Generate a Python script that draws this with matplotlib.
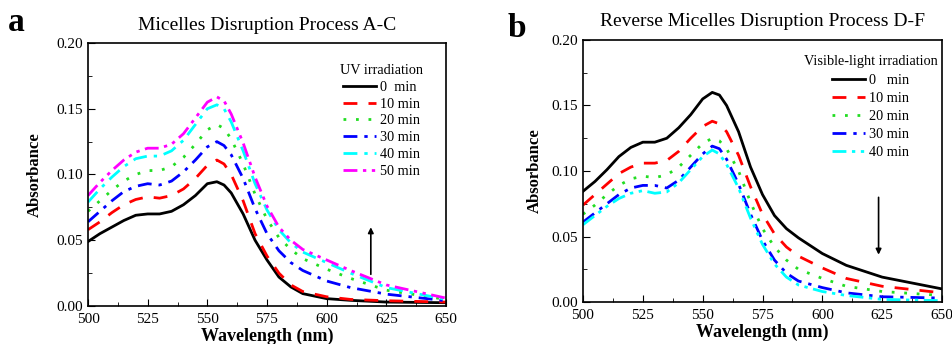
import matplotlib
matplotlib.use("Agg")
import matplotlib.pyplot as plt
from matplotlib.ticker import MultipleLocator

plt.rcParams['font.family'] = ['Liberation Serif', 'DejaVu Serif']

wl = [500, 505, 510, 515, 520, 525, 530, 535, 540, 545, 550, 554, 557, 560,
      565, 570, 575, 580, 585, 590, 600, 610, 625, 650]

# Panel a: UV irradiation
a_labels = ["0  min", "10 min", "20 min", "30 min", "40 min", "50 min"]
a_0 = [0.049, 0.055, 0.060, 0.065, 0.069, 0.070, 0.070, 0.072, 0.077, 0.084, 0.093, 0.0945, 0.092, 0.086,
       0.070, 0.050, 0.035, 0.022, 0.0145, 0.0094, 0.0056, 0.0043, 0.003, 0.0025]
a_10 = [0.058, 0.064, 0.071, 0.077, 0.081, 0.083, 0.082, 0.084, 0.089, 0.097, 0.107, 0.111, 0.108, 0.100,
        0.080, 0.055, 0.038, 0.025, 0.016, 0.011, 0.007, 0.005, 0.004, 0.003]
a_20 = [0.072, 0.080, 0.088, 0.095, 0.100, 0.103, 0.103, 0.106, 0.113, 0.123, 0.134, 0.138, 0.135, 0.127,
        0.108, 0.085, 0.066, 0.052, 0.043, 0.036, 0.028, 0.021, 0.012, 0.005]
a_30 = [0.064, 0.072, 0.080, 0.087, 0.091, 0.093, 0.092, 0.095, 0.102, 0.111, 0.121, 0.125, 0.122, 0.115,
        0.097, 0.074, 0.055, 0.042, 0.033, 0.027, 0.019, 0.014, 0.009, 0.004]
a_40 = [0.079, 0.089, 0.098, 0.106, 0.112, 0.114, 0.114, 0.118, 0.126, 0.138, 0.150, 0.153, 0.150, 0.140,
        0.118, 0.093, 0.073, 0.058, 0.048, 0.041, 0.033, 0.025, 0.014, 0.005]
a_50 = [0.084, 0.094, 0.103, 0.111, 0.117, 0.120, 0.120, 0.123, 0.131, 0.143, 0.155, 0.159, 0.156, 0.146,
        0.124, 0.098, 0.076, 0.060, 0.050, 0.043, 0.035, 0.027, 0.016, 0.006]

# Panel b: visible-light irradiation
b_labels = ["0   min", "10 min", "20 min", "30 min", "40 min"]
b_0 = [0.0845, 0.092, 0.101, 0.111, 0.118, 0.122, 0.122, 0.125, 0.133, 0.143, 0.155, 0.160, 0.158, 0.150,
       0.130, 0.103, 0.082, 0.066, 0.056, 0.049, 0.037, 0.028, 0.019, 0.010]
b_10 = [0.074, 0.082, 0.090, 0.098, 0.103, 0.106, 0.106, 0.108, 0.115, 0.125, 0.134, 0.138, 0.136, 0.130,
        0.112, 0.088, 0.067, 0.052, 0.042, 0.035, 0.026, 0.018, 0.012, 0.007]
b_20 = [0.067, 0.074, 0.082, 0.089, 0.094, 0.096, 0.095, 0.097, 0.103, 0.112, 0.121, 0.125, 0.123, 0.117,
        0.100, 0.076, 0.056, 0.042, 0.032, 0.025, 0.018, 0.012, 0.008, 0.005]
b_30 = [0.061, 0.068, 0.075, 0.082, 0.087, 0.089, 0.089, 0.087, 0.093, 0.103, 0.113, 0.119, 0.117, 0.109,
        0.090, 0.067, 0.047, 0.032, 0.022, 0.016, 0.011, 0.007, 0.004, 0.003]
b_40 = [0.059, 0.066, 0.073, 0.079, 0.083, 0.085, 0.083, 0.084, 0.091, 0.101, 0.111, 0.116, 0.113, 0.105,
        0.087, 0.064, 0.044, 0.029, 0.019, 0.013, 0.008, 0.005, 0.002, 0.001]

colors = ["black", "red", "#22dd22", "blue", "cyan", "magenta"]
styles = ["-", (0, (5, 4)), (0, (1, 3.5)), (0, (5, 2.5, 1.2, 2.5)),
          (0, (5, 2.5, 1.2, 2.5)), (0, (5, 2, 1.2, 2, 1.2, 2))]
b_styles = ["-", (0, (5, 4)), (0, (1, 3.5)), (0, (5, 2.5, 1.2, 2.5)),
            (0, (5, 2, 1.2, 2, 1.2, 2))]

fig = plt.figure(figsize=(9.53, 3.44), dpi=100)
ax1 = fig.add_axes([88/953, 1-306/344, 358/953, 263/344])
ax2 = fig.add_axes([583/953, 1-302/344, 359/953, 262/344])


def style_ax(ax, ylabelpad):
    ax.set_xlim(500, 650)
    ax.set_ylim(0, 0.20)
    ax.xaxis.set_major_locator(MultipleLocator(25))
    ax.xaxis.set_minor_locator(MultipleLocator(12.5))
    ax.yaxis.set_major_locator(MultipleLocator(0.05))
    ax.yaxis.set_minor_locator(MultipleLocator(0.025))
    ax.yaxis.set_major_formatter(matplotlib.ticker.FormatStrFormatter('%.2f'))
    ax.tick_params(which='both', direction='in', top=False, right=False, labelsize=11)
    ax.tick_params(axis='x', which='major', pad=5)
    ax.tick_params(which='major', length=5)
    ax.tick_params(which='minor', length=3)
    for s in ax.spines.values():
        s.set_linewidth(1.2)
    ax.set_xlabel("Wavelength (nm)", fontsize=13, fontweight='bold', labelpad=1)
    ax.set_ylabel("Absorbance", fontsize=12, fontweight='bold', labelpad=ylabelpad)


leg_kw = dict(frameon=False, fontsize=10.3, title_fontsize=10.3, loc='upper right',
              handlelength=2.3, handletextpad=0.3)

for ys, lab, c, ls in zip([a_0, a_10, a_20, a_30, a_40, a_50], a_labels, colors, styles):
    ax1.plot(wl, ys, color=c, linestyle=ls, lw=2, label=lab)
style_ax(ax1, 10)
ax1.set_title("Micelles Disruption Process A-C", fontsize=14, pad=9)
ax1.legend(title="UV irradiation", bbox_to_anchor=(0.972, 0.97), labelspacing=0.27, **leg_kw)
ax1.annotate("", xy=(618.5, 0.062), xytext=(618.5, 0.022),
             arrowprops=dict(arrowstyle='-|>', color='black', lw=1.2, mutation_scale=8))

for ys, lab, c, ls in zip([b_0, b_10, b_20, b_30, b_40], b_labels, colors[:5], b_styles):
    ax2.plot(wl, ys, color=c, linestyle=ls, lw=2, label=lab)
style_ax(ax2, 6)
ax2.set_title("Reverse Micelles Disruption Process D-F", fontsize=14, pad=10)
ax2.legend(title="Visible-light irradiation", bbox_to_anchor=(1.024, 0.99), labelspacing=0.36, **leg_kw)
ax2.annotate("", xy=(623.5, 0.034), xytext=(623.5, 0.082),
             arrowprops=dict(arrowstyle='-|>', color='black', lw=1.2, mutation_scale=8))

fig.text(8/953, 1-31/344, "a", fontsize=24, fontweight='bold')
fig.text(508/953, 1-37/344, "b", fontsize=24, fontweight='bold')

fig.savefig("out.png", dpi=100)
